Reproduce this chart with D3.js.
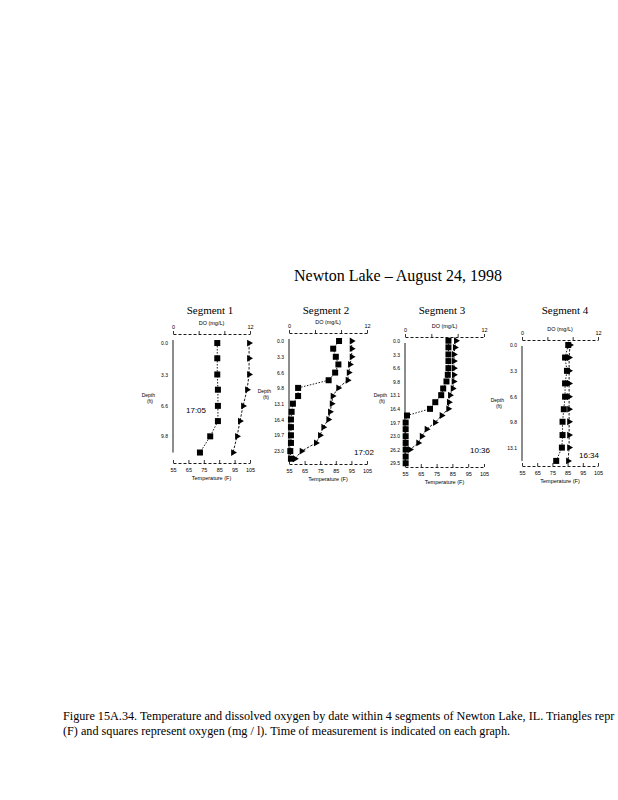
<!DOCTYPE html>
<html><head><meta charset="utf-8">
<script src="https://cdn.jsdelivr.net/npm/d3@7"></script>
<style>body{margin:0;background:#fff}svg{display:block}</style>
</head><body>
<script>
const chartTitle = "Newton Lake \u2013 August 24, 1998";
const segmentNames = ["Segment 1", "Segment 2", "Segment 3", "Segment 4"];
const measureTimes = ["17:05", "17:02", "10:36", "16:34"];
const doTickValues = [0, 4, 8, 12];
const tempTickValues = [55, 65, 75, 85, 95, 105];

const seg1Depth = [0, 1.6, 3.3, 4.9, 6.6, 8.2, 9.8, 11.5];
const seg1Oxygen = [6.9, 6.9, 6.9, 7.0, 7.0, 7.0, 5.8, 4.2];
const seg1Temp = [104.4, 104.4, 104.4, 103.1, 100.5, 98.5, 96.6, 94.0];
const seg1DepthLabels = ["0.0", "3.3", "6.6", "9.8"];

const seg2Depth = [0, 1.6, 3.3, 4.9, 6.6, 8.2, 9.8, 11.5, 13.1, 14.8, 16.4, 18.0, 19.7, 21.3, 23.0, 24.6];
const seg2Oxygen = [7.7, 6.8, 7.2, 7.6, 7.1, 6.1, 1.4, 1.4, 0.6, 0.4, 0.3, 0.3, 0.3, 0.3, 0.2, 0.3];
const seg2Temp = [95.2, 95.2, 95.2, 94.1, 93.3, 92.6, 86.6, 83.0, 82.4, 81.3, 80.2, 77.0, 74.9, 72.3, 63.1, 58.8];
const seg2DepthLabels = ["0.0", "3.3", "6.6", "9.8", "13.1", "16.4", "19.7", "23.0"];

const seg3Depth = [0, 1.6, 3.3, 4.9, 6.6, 8.2, 9.8, 11.5, 13.1, 14.8, 16.4, 18.0, 19.7, 21.3, 23.0, 24.6, 26.2, 27.9, 29.5];
const seg3Oxygen = [6.6, 6.6, 6.6, 6.6, 6.6, 6.5, 6.3, 5.8, 5.5, 4.6, 3.8, 0.3, 0.1, 0.1, 0.1, 0.1, 0.1, 0.1, 0.1];
const seg3TempDepth = [0, 1.6, 3.3, 4.9, 6.6, 8.2, 9.8, 11.5, 13.1, 14.8, 16.4, 18.0, 19.7, 21.3, 23.0, 24.6, 26.2];
const seg3Temp = [87.3, 86.6, 86.0, 86.0, 86.0, 86.0, 85.8, 85.2, 83.5, 82.8, 82.4, 78.2, 74.0, 68.7, 65.6, 63.4, 58.2];
const seg3DepthLabels = ["0.0", "3.3", "6.6", "9.8", "13.1", "16.4", "19.7", "23.0", "26.2", "29.5"];

const seg4Depth = [0, 1.6, 3.3, 4.9, 6.6, 8.2, 9.8, 11.5, 13.1, 14.8];
const seg4Oxygen = [7.3, 6.8, 7.1, 6.8, 6.8, 6.6, 6.4, 6.4, 6.3, 5.4];
const seg4Temp = [86.6, 86.0, 86.0, 86.0, 86.0, 86.0, 86.0, 86.0, 86.0, 85.3];
const seg4DepthLabels = ["0.0", "3.3", "6.6", "9.8", "13.1"];

const captionLines = [
  "Figure 15A.34. Temperature and dissolved oxygen by date within 4 segments of Newton Lake, IL.  Triangles repr",
  "(F)  and squares represent oxygen (mg / l). Time of measurement is indicated on each graph."
];

const segments = [
  {oxyDepth: seg1Depth, oxy: seg1Oxygen, tempDepth: seg1Depth, temp: seg1Temp, labels: seg1DepthLabels},
  {oxyDepth: seg2Depth, oxy: seg2Oxygen, tempDepth: seg2Depth, temp: seg2Temp, labels: seg2DepthLabels},
  {oxyDepth: seg3Depth, oxy: seg3Oxygen, tempDepth: seg3TempDepth, temp: seg3Temp, labels: seg3DepthLabels},
  {oxyDepth: seg4Depth, oxy: seg4Oxygen, tempDepth: seg4Depth, temp: seg4Temp, labels: seg4DepthLabels}
];

// layout (pixels) per panel
const layout = [
  {left: 173, right: 250, top: 334, bottom: 463, dmin: -0.95, dmax: 12.6, titleX: 210, timeX: 196, timeY: 413, depthY: 397},
  {left: 289, right: 367, top: 333, bottom: 464, dmin: -1.67, dmax: 25.7, titleX: 326, timeX: 364, timeY: 455, depthY: 393},
  {left: 405, right: 484, top: 337, bottom: 467, dmin: -0.9, dmax: 30.4, titleX: 442, timeX: 480, timeY: 453, depthY: 397},
  {left: 522, right: 598, top: 340, bottom: 466, dmin: -0.64, dmax: 15.45, titleX: 565, timeX: 589, timeY: 458, depthY: 402}
];

const SANS = "'Liberation Sans', Arial, sans-serif";
const SERIF = "'Liberation Serif', 'Times New Roman', serif";

const svg = d3.select("body").append("svg").attr("width", 618).attr("height", 800);
svg.append("rect").attr("width", 618).attr("height", 800).attr("fill", "#fff");

svg.append("text").attr("x", 398).attr("y", 281).attr("text-anchor", "middle")
  .attr("font-family", SERIF).attr("font-size", 16).attr("fill", "#000").text(chartTitle);

segments.forEach((s, i) => {
  const L = layout[i];
  const xDO = d3.scaleLinear().domain([0, 12]).range([L.left, L.right]);
  const xT = d3.scaleLinear().domain([55, 105]).range([L.left, L.right]);
  const y = d3.scaleLinear().domain([L.dmin, L.dmax]).range([L.top, L.bottom]);
  const g = svg.append("g");

  g.append("text").attr("x", L.titleX).attr("y", 314).attr("text-anchor", "middle")
    .attr("font-family", SERIF).attr("font-size", 11).text(segmentNames[i]);

  // top axis (dissolved oxygen)
  const top = g.append("g").attr("transform", `translate(0,${L.top})`)
    .call(d3.axisTop(xDO).tickValues(doTickValues).tickSize(3).tickSizeOuter(0).tickPadding(2)
      .tickFormat(d => (d === 0 || d === 12) ? d : ""));
  top.append("text").attr("x", (L.left + L.right) / 2).attr("y", -9).attr("text-anchor", "middle")
    .attr("fill", "#000").attr("font-size", 5.5).text("DO (mg/L)");

  // bottom axis (temperature)
  const bot = g.append("g").attr("transform", `translate(0,${L.bottom})`)
    .call(d3.axisBottom(xT).tickValues(tempTickValues).tickSize(-3).tickSizeOuter(0).tickPadding(5));
  bot.append("text").attr("x", (L.left + L.right) / 2).attr("y", 17).attr("text-anchor", "middle")
    .attr("fill", "#000").attr("font-size", 5.5).text("Temperature (F)");

  // left axis (depth)
  const left = g.append("g").attr("transform", `translate(${L.left},0)`)
    .call(d3.axisLeft(y).tickValues(s.labels.map(Number)).tickSize(0).tickPadding(5)
      .tickFormat((d, j) => s.labels[j]));

  [top, bot, left].forEach(a => {
    a.attr("font-family", SANS).attr("font-size", 5.5);
    a.selectAll(".tick text").attr("fill", "#000");
    a.selectAll("line").attr("stroke", "#000").attr("stroke-width", 0.8);
    a.select(".domain").attr("stroke", "#000").attr("stroke-width", 0.9);
  });
  left.attr("font-size", 5);
  top.select(".domain").attr("stroke-dasharray", "3,2");
  bot.select(".domain").attr("stroke-dasharray", "3,2");
  left.select(".domain").attr("d", `M0,${L.top + 6}V${y(s.oxyDepth[s.oxyDepth.length - 1])}`);

  const dl = left.append("text").attr("x", -18).attr("y", L.depthY).attr("text-anchor", "end")
    .attr("fill", "#000").attr("font-size", 5);
  dl.append("tspan").attr("x", -18).attr("dy", 0).text("Depth");
  dl.append("tspan").attr("x", -20).attr("dy", 6).text("(ft)");

  // lines
  const oxyPts = s.oxy.map((v, j) => ({v, d: s.oxyDepth[j]}));
  const tPts = s.temp.map((v, j) => ({v, d: s.tempDepth[j]}));
  g.append("path").datum(oxyPts).attr("fill", "none").attr("stroke", "#000").attr("stroke-width", 0.9)
    .attr("stroke-dasharray", "1.5,1.5")
    .attr("d", d3.line().x(p => xDO(p.v)).y(p => y(p.d)));
  g.append("path").datum(tPts).attr("fill", "none").attr("stroke", "#000").attr("stroke-width", 0.9)
    .attr("stroke-dasharray", "2.5,1.5")
    .attr("d", d3.line().x(p => xT(p.v)).y(p => y(p.d)));

  // markers
  g.selectAll("rect.sq").data(oxyPts).join("rect").attr("class", "sq")
    .attr("x", p => xDO(p.v) - 3).attr("y", p => y(p.d) - 3).attr("width", 6).attr("height", 6).attr("fill", "#000");
  g.selectAll("path.tri").data(tPts).join("path").attr("class", "tri")
    .attr("d", d3.symbol(d3.symbolTriangle, 20))
    .attr("transform", p => `translate(${xT(p.v)},${y(p.d)}) rotate(90)`).attr("fill", "#000");

  g.append("text").attr("x", L.timeX).attr("y", L.timeY).attr("text-anchor", "middle")
    .attr("font-family", SANS).attr("font-size", 8).text(measureTimes[i]);
});

captionLines.forEach((t, i) => {
  svg.append("text").attr("x", 63).attr("y", 720 + i * 15).attr("font-family", SERIF)
    .attr("font-size", 12.2).attr("fill", "#000").text(t);
});
</script>
</body></html>
